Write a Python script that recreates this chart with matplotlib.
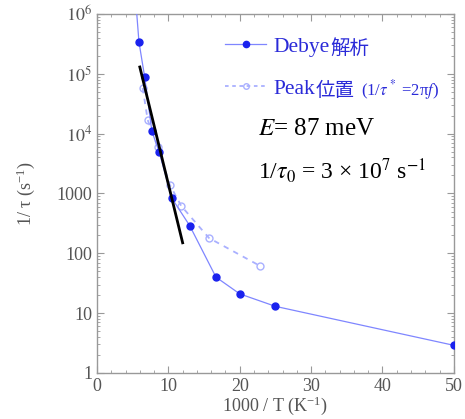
import matplotlib
matplotlib.use('Agg')
import matplotlib.pyplot as plt
from matplotlib.lines import Line2D
from matplotlib.ticker import FixedLocator, MultipleLocator, LogLocator, NullFormatter
import numpy as np

plt.rcParams['font.family'] = ['Liberation Serif', 'Noto Sans CJK JP', 'DejaVu Sans']
plt.rcParams['mathtext.fontset'] = 'stix'

# Debye analysis (1000/T, 1/tau)
debye_x = [5.26, 5.88, 6.67, 7.69, 8.70, 10.5, 12.99, 16.67, 20.0, 25.0, 50.0]
debye_y = [3.0e6, 3.4e5, 9.0e4, 1.1e4, 5.0e3, 830, 290, 40, 21, 13, 2.9]

# Peak positions (1/tau* = 2 pi f)
peak_x = [6.4, 7.1, 8.5, 10.2, 11.8, 15.7, 22.8]
peak_y = [5.8e4, 1.7e4, 6.0e3, 1.4e3, 620, 180, 62]

# Arrhenius fit line endpoints
fit_x = [6.0, 12.0]
fit_y = [1.3e5, 150]

ytick_vals = [1, 10, 100, 1000, 1e4, 1e5, 1e6]
ytick_labels = ['1', '10', '100', '1000', '$10^4$', '$10^5$', '$10^6$']

fig = plt.figure(figsize=(4.65, 4.19), dpi=100)
ax = fig.add_axes([0.2086, 0.1098, 0.7674, 0.8568])

ax.plot(debye_x, debye_y, '-', color='#7f86ff', lw=0.9, marker='o', ms=5,
        mfc='#1a22ee', mec='#1a22ee', zorder=3)
ax.plot(peak_x, peak_y, '--', color='#a9b0ff', lw=1.3, dashes=(3, 3), marker='o', ms=5,
        mfc='none', mec='#a9b0ff', mew=1.0, zorder=2)
ax.plot(fit_x, fit_y, '-', color='black', lw=2.0, zorder=4)

ax.set_yscale('log')
ax.set_xlim(0, 50)
ax.set_ylim(1, 1e6)
ax.yaxis.set_major_locator(FixedLocator(ytick_vals))
ax.set_yticks(ytick_vals)
ax.set_yticklabels(ytick_labels)
ax.yaxis.set_minor_locator(LogLocator(base=10, subs=np.arange(2, 10), numticks=20))
ax.yaxis.set_minor_formatter(NullFormatter())
ax.xaxis.set_major_locator(MultipleLocator(10))
ax.xaxis.set_minor_locator(MultipleLocator(2))

grey = '#555555'
for s in ax.spines.values():
    s.set_color('#999999')
    s.set_linewidth(1.0)
ax.tick_params(which='both', direction='in', top=True, right=True, colors='#999999',
               labelcolor=grey, labelsize=13)
ax.tick_params(which='major', length=5)
ax.tick_params(which='minor', length=2.5)

ax.set_xlabel('1000 / T (K$^{\\mathregular{-1}}$)', fontsize=13, color=grey, labelpad=0)
ax.set_ylabel('1/ τ (s$^{\\mathregular{-1}}$)', fontsize=13, color=grey, labelpad=14)

blue_txt = '#2a2ad8'
handles = [
    Line2D([], [], color='#7f86ff', lw=0.9, marker='o', ms=4.5, mfc='#1a22ee', mec='#1a22ee'),
    Line2D([], [], color='#a9b0ff', lw=1.3, ls='--', dashes=(2, 2), marker='o', ms=4,
           mfc='none', mec='#a9b0ff'),
]
leg = ax.legend(handles, ['Debye', 'Peak'], loc='upper left',
                bbox_to_anchor=(0.305, 0.99), frameon=False,
                prop={'family': 'Liberation Serif', 'size': 15.5},
                labelcolor=blue_txt, handlelength=1.9, handletextpad=0.35,
                labelspacing=1.0)
leg.set_zorder(5)
t1, t2 = leg.get_texts()
ax.annotate('解析', xy=(1, 0.45), xycoords=t1, xytext=(0.5, 0), textcoords='offset points',
            fontsize=14, color=blue_txt, va='center', family='Noto Sans CJK JP',
            zorder=10)
c2 = ax.annotate('位置', xy=(1, 0.45), xycoords=t2, xytext=(0.5, 0),
                 textcoords='offset points', fontsize=14, color=blue_txt, va='center',
                 family='Noto Sans CJK JP', zorder=10)
ax.annotate('(1/$\\tau^*$ =2π$f$)', xy=(1, 0.5), xycoords=c2, xytext=(4, 0),
            textcoords='offset points', fontsize=12, color=blue_txt, va='center',
            zorder=11)

ax.text(0.45, 0.68, '$E$= 87 meV', transform=ax.transAxes, fontsize=18, color='black',
        va='center')
ax.text(0.45, 0.565, '1/$\\tau_0$ = 3 × 10$^7$ s$^{-1}$', transform=ax.transAxes,
        fontsize=17, color='black', va='center')

fig.savefig('out.png', dpi=100)
